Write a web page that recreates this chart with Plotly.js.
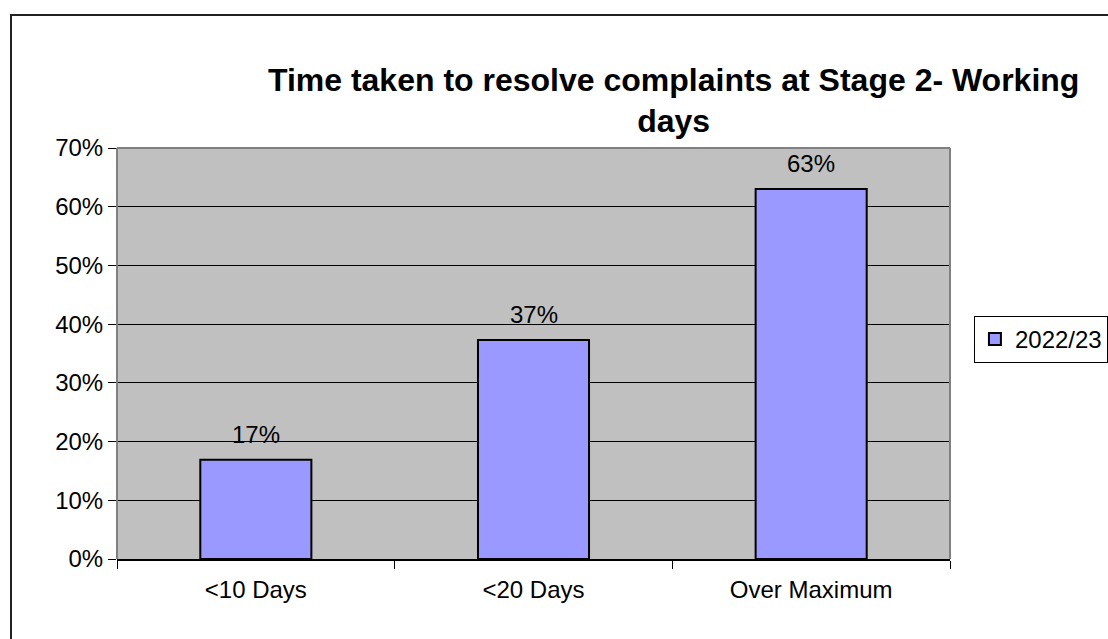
<!DOCTYPE html>
<html><head><meta charset="utf-8">
<script src="https://cdn.plot.ly/plotly-3.0.1.min.js"></script>
<style>
html,body{margin:0;padding:0;background:#fff;overflow:hidden}
#frame{position:absolute;left:10px;top:14px;width:1200px;height:700px;border:2px solid #222;box-sizing:border-box;pointer-events:none;z-index:5}
#chart{position:absolute;left:0;top:0;width:1108px;height:639px}
</style></head>
<body>
<div id="chart"></div>
<div id="frame"></div>
<script>
var categories = ['<10 Days', '<20 Days', 'Over Maximum'];
var values = [0.169, 0.373, 0.630];
var labels = ['17%', '37%', '63%'];
var seriesName = '2022/23';
var yTickVals = [0, 0.1, 0.2, 0.3, 0.4, 0.5, 0.6, 0.7];
var yTickText = ['0%', '10%', '20%', '30%', '40%', '50%', '60%', '70%'];

var font = 'Liberation Sans, Arial, sans-serif';

var trace = {
  type: 'bar', x: categories, y: values, name: seriesName,
  width: 0.4,
  marker: {color: '#9999ff', line: {color: '#000', width: 2}},
  showlegend: true, hoverinfo: 'skip'
};

var annotations = categories.map(function(c, i){
  return {x: c, y: values[i], xref: 'x', yref: 'y', text: labels[i], showarrow: false,
    yanchor: 'bottom', yshift: 10, font: {family: font, size: 24, color: '#000'}};
});

var layout = {
  width: 1108, height: 639,
  margin: {l: 117, r: 158, t: 148, b: 80},
  paper_bgcolor: '#fff', plot_bgcolor: '#c0c0c0',
  title: {text: '<b>Time taken to resolve complaints at Stage 2- Working<br>days</b>',
    x: 0.608, xanchor: 'center', y: 0.858, yanchor: 'middle',
    font: {family: font, size: 32, color: '#000'}},
  xaxis: {type: 'category', range: [-0.5, 2.5], tickson: 'boundaries', ticks: 'outside', ticklen: 8,
    tickcolor: '#000', tickwidth: 1, showline: true, linecolor: '#000', linewidth: 2,
    showgrid: false, ticklabelstandoff: 8, tickfont: {family: font, size: 24, color: '#000'}, fixedrange: true},
  yaxis: {range: [0, 0.7], tickvals: yTickVals, ticktext: yTickText, ticks: 'outside', ticklen: 8,
    tickcolor: '#000', tickwidth: 1, showgrid: true, gridcolor: '#000', gridwidth: 1,
    zeroline: false, showline: false, tickfont: {family: font, size: 24, color: '#000'}, fixedrange: true},
  shapes: [
    {type: 'line', xref: 'paper', yref: 'paper', x0: 0, x1: 0, y0: 0, y1: 1, line: {color: '#808080', width: 2}},
    {type: 'line', xref: 'paper', yref: 'paper', x0: 1, x1: 1, y0: 0, y1: 1, line: {color: '#808080', width: 2}},
    {type: 'line', xref: 'paper', yref: 'paper', x0: 0, x1: 1, y0: 1, y1: 1, line: {color: '#808080', width: 2}}
  ],
  annotations: annotations,
  legend: {xref: 'container', yref: 'container', x: 0.879, xanchor: 'left', y: 0.469, yanchor: 'middle',
    bordercolor: '#000', borderwidth: 1,
    bgcolor: '#fff', font: {family: font, size: 24, color: '#000'}, itemwidth: 30},
  bargap: 0.6
};

Plotly.newPlot('chart', [trace], layout, {displayModeBar: false, staticPlot: true});
</script>
</body></html>
